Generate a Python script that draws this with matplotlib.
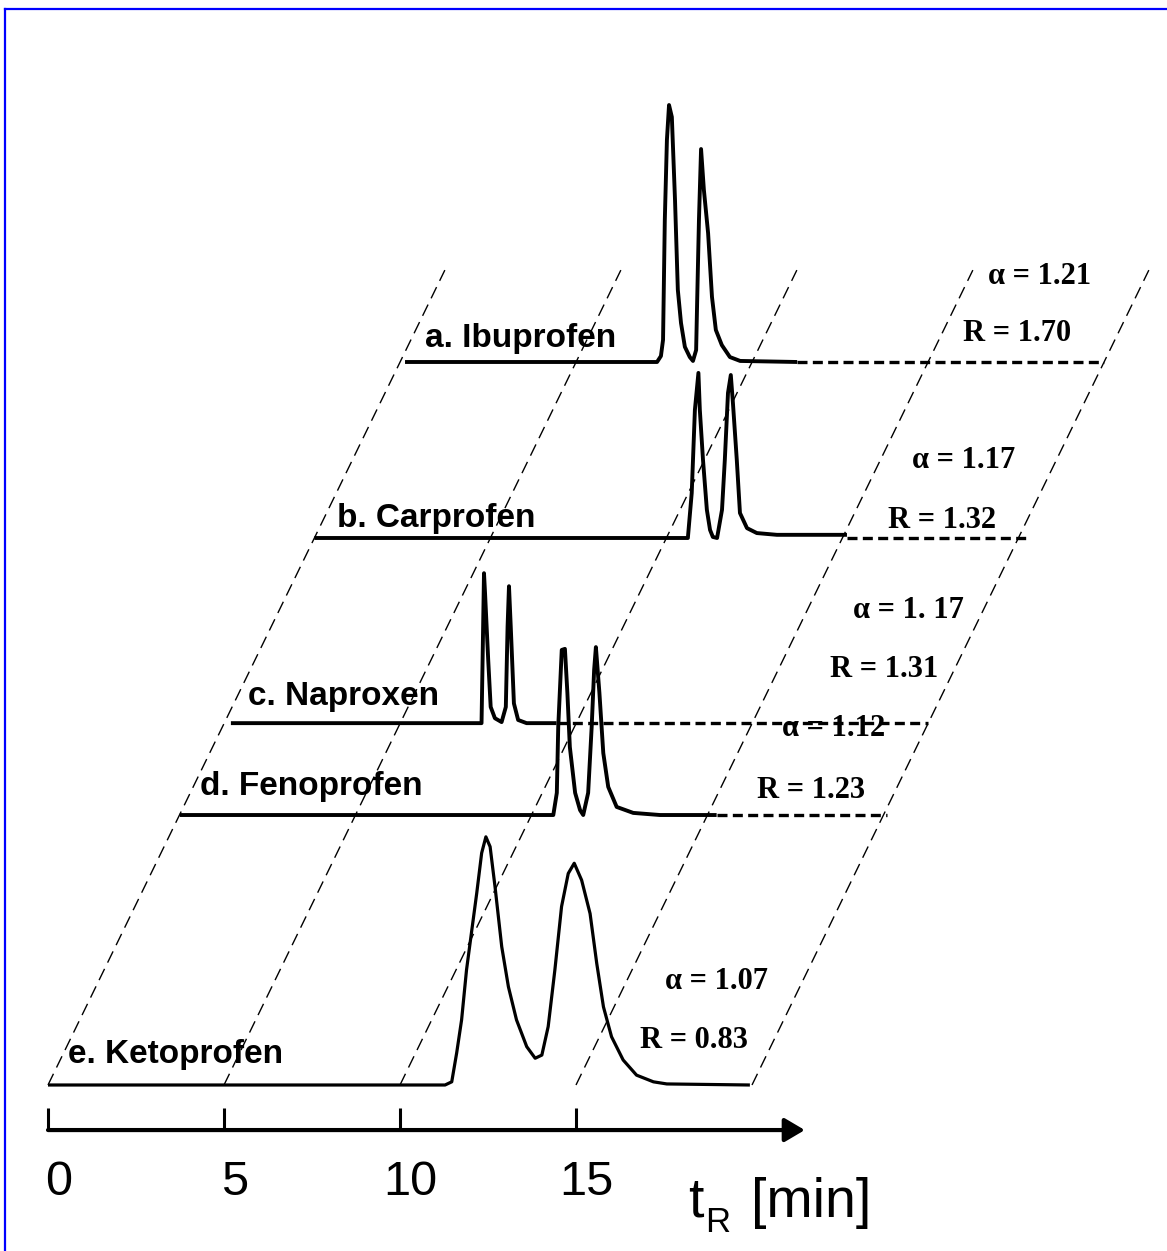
import numpy as np
import matplotlib
matplotlib.use("Agg")
import matplotlib.pyplot as plt
from matplotlib.lines import Line2D

# retention time [min] / detector signal for each enantiomer pair
ibu_t = [0.14, 7.30, 7.41, 7.47, 7.52, 7.58, 7.64, 7.72, 7.81, 7.89, 7.98, 8.09, 8.23, 8.32,
         8.41, 8.44, 8.49, 8.55, 8.63, 8.75, 8.86, 8.97, 9.14, 9.37, 9.66, 11.28]
ibu_s = [0, 0, 0.17, 0.63, 4.03, 6.31, 7.30, 6.96, 4.60, 2.05, 1.11, 0.43, 0.14, 0.03,
         0.34, 1.76, 4.03, 6.05, 4.89, 3.66, 1.85, 0.91, 0.48, 0.14, 0.03, 0]

car_t = [0.0, 10.61, 10.72, 10.81, 10.91, 10.95, 11.04, 11.15, 11.24, 11.32, 11.44,
         11.58, 11.66, 11.75, 11.83, 11.89, 12.00, 12.09, 12.29, 12.57, 13.14, 15.13]
car_s = [0, 0, 1.28, 3.64, 4.69, 3.64, 2.22, 0.80, 0.23, 0.03, 0,
         0.80, 2.22, 4.12, 4.63, 3.84, 2.22, 0.71, 0.28, 0.14, 0.09, 0.09]

nap_t = [0.19, 7.31, 7.34, 7.38, 7.41, 7.50, 7.57, 7.69, 7.88, 8.00, 8.05, 8.09, 8.14,
         8.23, 8.35, 8.59, 9.44]
nap_s = [0, 0, 1.79, 4.26, 3.69, 1.79, 0.46, 0.14, 0.03, 0.46, 2.74, 3.89, 2.74,
         0.56, 0.09, 0, 0]

fen_t = [0.01, 10.62, 10.72, 10.76, 10.86, 10.95, 11.02, 11.09, 11.24, 11.38, 11.47,
         11.61, 11.71, 11.78, 11.83, 11.93, 12.04, 12.18, 12.42, 12.89, 13.65, 15.26]
fen_s = [0, 0, 0.63, 2.50, 4.69, 4.72, 3.47, 1.93, 0.63, 0.14, 0,
         0.63, 2.50, 4.12, 4.77, 3.47, 1.76, 0.80, 0.23, 0.06, 0, 0]

ket_t = [0, 11.28, 11.47, 11.61, 11.75, 11.89, 12.04, 12.18, 12.32, 12.44, 12.56, 12.70,
         12.89, 13.08, 13.31, 13.60, 13.84, 14.03, 14.21, 14.40, 14.59, 14.78, 14.95,
         15.16, 15.40, 15.59, 15.78, 16.01, 16.34, 16.72, 17.20, 17.58, 19.94]
ket_s = [0, 0, 0.09, 0.91, 1.85, 3.27, 4.40, 5.45, 6.59, 7.05, 6.77, 5.63,
         3.93, 2.79, 1.85, 1.09, 0.76, 0.85, 1.66, 3.27, 5.07, 6.01, 6.30,
         5.82, 4.87, 3.45, 2.22, 1.37, 0.71, 0.28, 0.09, 0.03, 0]

names = ["a. Ibuprofen", "b. Carprofen", "c. Naproxen", "d. Fenoprofen", "e. Ketoprofen"]
times = [ibu_t, car_t, nap_t, fen_t, ket_t]
signals = [ibu_s, car_s, nap_s, fen_s, ket_s]
depth = [20.54, 15.54, 10.28, 7.67, 0.0]      # baseline height of each trace in the stack
dash_end = [20.0, 20.25, 20.0, 20.1, None]    # time where the dashed baseline stops
alpha = ["1.21", "1.17", "1. 17", "1.12", "1.07"]
resol = ["1.70", "1.32", "1.31", "1.23", "0.83"]

grid_t = [0, 5, 10, 15, 20]
tick_t = [0, 5, 10, 15]

shear = 0.487      # horizontal shift per unit of stack height
grid_top = 23.15

fig = plt.figure(figsize=(11.67, 12.51), dpi=100)
ax = fig.add_axes([0, 0, 1, 1])
ax.set_xlim(-1.3636, 31.79)
ax.set_ylim(-4.716, 30.824)
ax.axis("off")

sans = ["Liberation Sans", "DejaVu Sans"]
serif = ["Liberation Serif", "DejaVu Serif"]

# slanted time grid
for T in grid_t:
    ax.plot([T, T + shear * grid_top], [0, grid_top], color="black", lw=1.0,
            ls=(0, (9, 5)), zorder=2)

# chromatograms
for i in range(len(names)):
    d = depth[i]
    x = np.array(times[i]) + shear * d
    y = np.array(signals[i]) + d
    lw = 2.3 if d == 0 else 2.8
    ax.plot(x, y, color="black", lw=lw, solid_joinstyle="round",
            solid_capstyle="butt", zorder=4)
    if dash_end[i] is not None:
        ax.plot([times[i][-1] + shear * d, dash_end[i] + shear * d], [d, d],
                color="black", lw=2.4, ls=(0, (3, 1.6)), zorder=3)

# compound labels
label_pos = [(10.71, 20.97), (8.21, 15.85), (5.68, 10.80), (4.32, 8.24), (0.57, 0.625)]
for name, (lx, ly) in zip(names, label_pos):
    ax.text(lx, ly, name, family=sans, fontsize=24, fontweight="bold",
            ha="left", va="baseline", zorder=1)

# separation factor and resolution
alpha_pos = [(26.70, 22.98), (24.55, 17.73), (22.87, 13.47), (20.85, 10.14), (17.53, 2.93)]
res_pos = [(25.99, 21.34), (23.86, 16.05), (22.22, 11.79), (20.14, 8.38), (16.82, 1.25)]
for a, r, (ax_, ay), (rx, ry) in zip(alpha, resol, alpha_pos, res_pos):
    ax.text(ax_, ay, "\u03b1 = " + a, family=serif, fontsize=22, fontweight="bold",
            ha="left", va="center", zorder=1)
    ax.text(rx, ry, "R = " + r, family=serif, fontsize=22, fontweight="bold",
            ha="left", va="center", zorder=1)

# time axis
axis_y = -1.28
ax.annotate("", xy=(21.5, axis_y), xytext=(0, axis_y),
            arrowprops=dict(arrowstyle="-|>,head_length=0.61,head_width=0.36",
                            mutation_scale=20, lw=3, color="black",
                            shrinkA=0, shrinkB=0))
ax.vlines(tick_t, axis_y, -0.65, color="black", lw=2.2)
for T in tick_t:
    ax.text(T + 0.3, -3.125, str(T), family=sans, fontsize=35,
            ha="center", va="baseline")
ax.text(18.18, -3.75, "t", family=sans, fontsize=40, ha="left", va="baseline")
ax.text(18.66, -4.18, "R", family=sans, fontsize=25, ha="left", va="baseline")
ax.text(19.97, -3.75, "[min]", family=sans, fontsize=40, ha="left", va="baseline")

# frame edge
fx, fy = 5 / 1167, 1 - 9 / 1251
fig.add_artist(Line2D([fx, fx], [0, fy], transform=fig.transFigure, color="#0000ff", lw=1.6))
fig.add_artist(Line2D([fx, 1], [fy, fy], transform=fig.transFigure, color="#0000ff", lw=1.6))

fig.savefig("out.png", dpi=100)
